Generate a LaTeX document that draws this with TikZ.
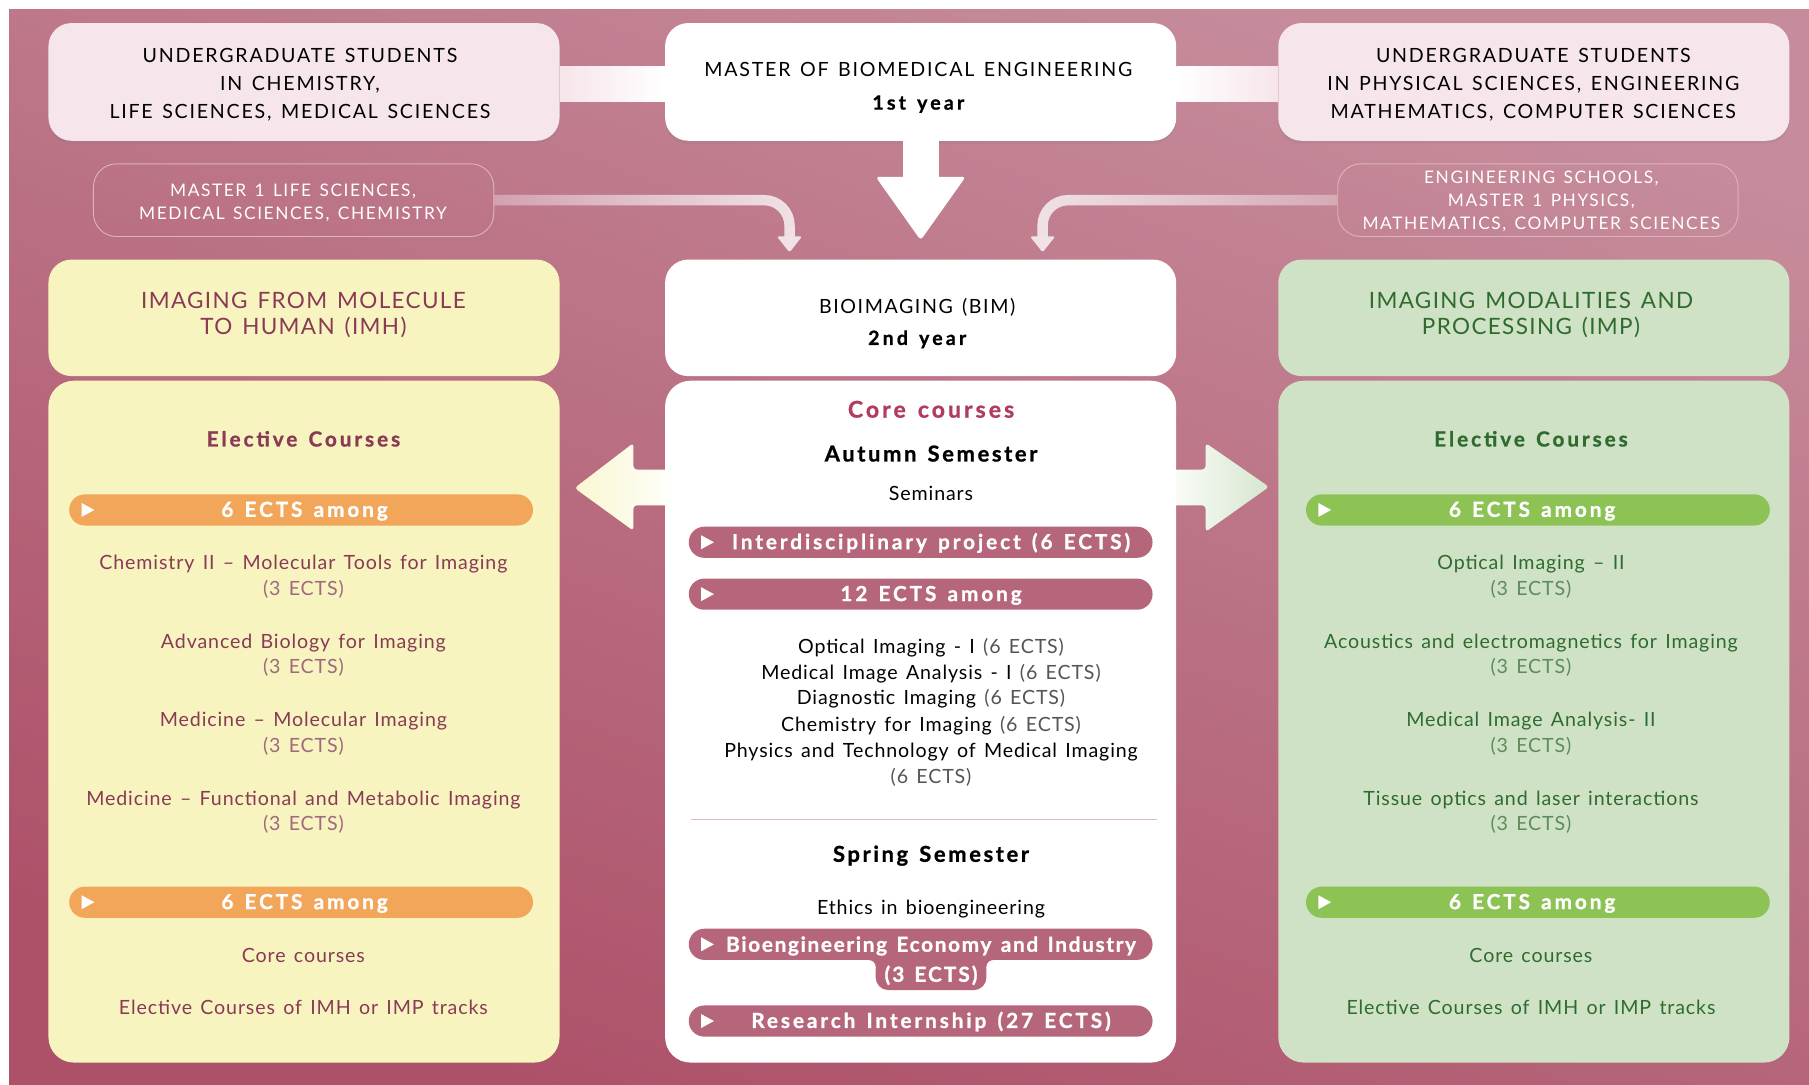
\documentclass[tikz,border=0pt]{standalone}
\usepackage{fontspec}
\setmainfont{Lato}[WordSpace=1.4]
\usetikzlibrary{calc,fadings,shadows}
\definecolor{bgA}{HTML}{C68C9B}
\definecolor{bgB}{HTML}{AD5169}
\definecolor{ugpink}{HTML}{F6E5EA}
\definecolor{yel}{HTML}{F7F4C0}
\definecolor{grn}{HTML}{CFE2C6}
\definecolor{mauve}{HTML}{8A3A55}
\definecolor{mauveL}{HTML}{A06A7C}
\definecolor{dgreen}{HTML}{2F6B2F}
\definecolor{dgreenL}{HTML}{5E8B5E}
\definecolor{crim}{HTML}{B13C5E}
\definecolor{pinkpill}{HTML}{B5667B}
\definecolor{orpill}{HTML}{F2A65A}
\definecolor{grpill}{HTML}{8DC255}
\definecolor{outl}{HTML}{DDB3BE}
\definecolor{arrw}{HTML}{F0E2E6}
\definecolor{sepc}{HTML}{E8B7C3}
\definecolor{ectsgray}{HTML}{555555}
\tikzfading[name=fadeL, left color=transparent!60, right color=transparent!0]
\tikzfading[name=fadeR, left color=transparent!0, right color=transparent!60]
\newcommand\fs[2]{\fontsize{#1}{#2}\selectfont}
\newcommand\playtri[1]{\fill[white] ($(#1.west)+(11,-6)$) -- ++(11,6) -- ++(-11,6) -- cycle;}
\begin{document}
\begin{tikzpicture}[x=1pt,y=-1pt,
  bx/.style={rounded corners=20pt, minimum width=443pt, minimum height=102pt, inner sep=0pt},
  body/.style={rounded corners=22pt, minimum width=443pt, minimum height=591pt, inner sep=0pt},
  topshadow/.style={drop shadow={opacity=0.18, shadow xshift=0pt, shadow yshift=-2.5pt}},
  ol/.style={draw=outl, line width=0.8pt, rounded corners=20pt, minimum width=347pt, minimum height=63pt, inner sep=0pt},
  tl/.style={anchor=base, inner sep=0pt},
  pill/.style={rounded corners=13.5pt, minimum width=402pt, minimum height=27pt, inner sep=0pt},
  ptx/.style={tl, text=white, font=\fs{18}{20}\bfseries\addfontfeature{LetterSpace=14,FakeBold=1}},
  toptx/.style={tl, font=\fs{17}{20}\addfontfeature{LetterSpace=9}},
  oltx/.style={tl, font=\fs{15}{18}\addfontfeature{LetterSpace=9}, text=white},
  hdtx/.style={tl, font=\fs{19.5}{22}\addfontfeature{LetterSpace=6}},
  rg/.style={tl, font=\fs{17}{20}\addfontfeature{LetterSpace=4.5}},
  lt/.style={rg, text=mauve},
  lts/.style={rg, text=mauveL},
  rt/.style={rg, text=dgreen},
  rts/.style={rg, text=dgreenL},
  ct/.style={rg, text=black},
  cb/.style={tl, font=\fs{18}{20}\bfseries\addfontfeature{LetterSpace=14,FakeBold=1}},
  yr/.style={tl, font=\fs{17}{20}\bfseries\addfontfeature{LetterSpace=16,FakeBold=1}},
]
\useasboundingbox (0,0) rectangle (1568,940);
\fill[white] (0,0) rectangle (1568,940);
\shade[top color=bgA, bottom color=bgB, shading angle=-20] (8,8) rectangle (1568,940);

% ---------- top row
\node[bx, fill=ugpink, topshadow] (ug1) at (263.5,71) {};
\node[bx, fill=white, topshadow] (m1) at (798,71) {};
\node[bx, fill=ugpink, topshadow] (ug2) at (1329.5,71) {};
\shade[left color=ugpink, right color=white] ($(ug1.east)+(0,-13)$) rectangle ($(m1.west)+(0,17)$);
\shade[left color=white, right color=ugpink] ($(m1.east)+(0,-13)$) rectangle ($(ug2.west)+(0,17)$);

\node[toptx] (ug1a) at (260,54) {UNDERGRADUATE STUDENTS};
\node[toptx] (ug1b) at (260,78.5) {IN CHEMISTRY,};
\node[toptx] (ug1c) at (260,103) {LIFE SCIENCES, MEDICAL SCIENCES};
\node[toptx] (m1a) at (796,66) {MASTER OF BIOMEDICAL ENGINEERING};
\node[yr] (m1b) at (796,95) {1st year};
\node[toptx] (ug2a) at (1329,54) {UNDERGRADUATE STUDENTS};
\node[toptx] (ug2b) at (1329,78.5) {IN PHYSICAL SCIENCES, ENGINEERING};
\node[toptx] (ug2c) at (1329,103) {MATHEMATICS, COMPUTER SCIENCES};

% ---------- outlined boxes
\node[ol] (ml) at (254.5,173.5) {};
\node[ol] (mr) at (1333,173.5) {};
\node[oltx] (mla) at (254,170) {MASTER 1 LIFE SCIENCES,};
\node[oltx] (mlb) at (254,190) {MEDICAL SCIENCES, CHEMISTRY};
\node[oltx] (mra) at (1336,159) {ENGINEERING SCHOOLS,};
\node[oltx] (mrb) at (1336,179) {MASTER 1 PHYSICS,};
\node[oltx] (mrc) at (1336,199) {MATHEMATICS, COMPUTER SCIENCES};

% ---------- second row
\node[bx, fill=yel, minimum height=101pt] (imh) at (263.5,275.5) {};
\node[bx, fill=white, minimum height=101pt] (bim) at (798,275.5) {};
\node[bx, fill=grn, minimum height=101pt] (imp) at (1329.5,275.5) {};
\node[hdtx, text=mauve] (imha) at (263,267) {IMAGING FROM MOLECULE};
\node[hdtx, text=mauve] (imhb) at (263,290) {TO HUMAN (IMH)};
\node[tl, font=\fs{17}{20}\addfontfeature{LetterSpace=8}] (bima) at (795,272) {BIOIMAGING (BIM)};
\node[yr] (bimb) at (795,299) {2nd year};
\node[hdtx, text=dgreen] (impa) at (1327,267) {IMAGING MODALITIES AND};
\node[hdtx, text=dgreen] (impb) at (1327,290) {PROCESSING (IMP)};

% ---------- connectors
\fill[white] ($(m1.south)+(-15.5,-2)$) rectangle ($(m1.south)+(15.5,32)$);
\fill[white, rounded corners=3pt] ($(m1.south)+(-39,31)$) -- ($(m1.south)+(39,31)$) -- ($(m1.south)+(0,86)$) -- cycle;

\coordinate (lae) at ($(bim.north west)+(108,-19)$);
\coordinate (rae) at ($(bim.north east)+(-116,-19)$);
\draw[arrw, line width=9pt, rounded corners=22pt, path fading=fadeL] (ml.east) -| (lae);
\fill[arrw, rounded corners=1.5pt] ($(lae)+(-11,-1)$) -- ($(lae)+(11,-1)$) -- ($(lae)+(0,13)$) -- cycle;
\draw[arrw, line width=9pt, rounded corners=22pt, path fading=fadeR] (mr.west) -| (rae);
\fill[arrw, rounded corners=1.5pt] ($(rae)+(-11,-1)$) -- ($(rae)+(11,-1)$) -- ($(rae)+(0,13)$) -- cycle;

% side arrows
\shade[left color=yel!75!white, right color=white, rounded corners=3pt] (498,423) -- (549,384) -- (549,407) -- (590,407) -- (590,438) -- (549,438) -- (549,460) -- cycle;
\shade[left color=white, right color=grn!85!white, rounded corners=3pt] (1100,422) -- (1045,384) -- (1045,407) -- (1005,407) -- (1005,438) -- (1045,438) -- (1045,461) -- cycle;

% ---------- bodies
\node[body, fill=yel] (lbody) at (263.5,625.5) {};
\node[body, fill=white] (cbody) at (798,625.5) {};
\node[body, fill=grn] (rbody) at (1329.5,625.5) {};

% left body
\node[cb, text=mauve] (le) at (263,387) {Elective Courses};
\node[pill, fill=orpill] (lp1) at (261,442) {}; \playtri{lp1}
\node[ptx] (lp1t) at (264,448) {6 ECTS among};
\node[lt] (l1) at (263,494) {Chemistry II – Molecular Tools for Imaging};
\node[lts] (l1e) at (263,516) {(3 ECTS)};
\node[lt] (l2) at (263,562) {Advanced Biology for Imaging};
\node[lts] (l2e) at (263,584) {(3 ECTS)};
\node[lt] (l3) at (263,630) {Medicine – Molecular Imaging};
\node[lts] (l3e) at (263,652) {(3 ECTS)};
\node[lt] (l4) at (263,698) {Medicine – Functional and Metabolic Imaging};
\node[lts] (l4e) at (263,720) {(3 ECTS)};
\node[pill, fill=orpill] (lp2) at (261,782) {}; \playtri{lp2}
\node[ptx] (lp2t) at (264,788) {6 ECTS among};
\node[lt] (l5) at (263,834) {Core courses};
\node[lt] (l6) at (263,879) {Elective Courses of IMH or IMP tracks};

% right body
\node[cb, text=dgreen] (re) at (1327,387) {Elective Courses};
\node[pill, fill=grpill] (rp1) at (1333,442) {}; \playtri{rp1}
\node[ptx] (rp1t) at (1328,448) {6 ECTS among};
\node[rt] (r1) at (1327,494) {Optical Imaging – II};
\node[rts] (r1e) at (1327,516) {(3 ECTS)};
\node[rt] (r2) at (1327,562) {Acoustics and electromagnetics for Imaging};
\node[rts] (r2e) at (1327,584) {(3 ECTS)};
\node[rt] (r3) at (1327,630) {Medical Image Analysis- II};
\node[rts] (r3e) at (1327,652) {(3 ECTS)};
\node[rt] (r4) at (1327,698) {Tissue optics and laser interactions};
\node[rts] (r4e) at (1327,720) {(3 ECTS)};
\node[pill, fill=grpill] (rp2) at (1333,782) {}; \playtri{rp2}
\node[ptx] (rp2t) at (1328,788) {6 ECTS among};
\node[rt] (r5) at (1327,834) {Core courses};
\node[rt] (r6) at (1327,879) {Elective Courses of IMH or IMP tracks};

% centre body
\node[tl, text=crim, font=\fs{20}{22}\bfseries\addfontfeature{LetterSpace=13,FakeBold=1}] (cc) at (807,362) {Core courses};
\node[cb, text=black, font=\fs{19}{20}\bfseries\addfontfeature{LetterSpace=12,FakeBold=1}] (aut) at (807,400) {Autumn Semester};
\node[ct] (sem) at (807,434) {Seminars};
\node[pill, fill=pinkpill] (cp1) at (798,470) {}; \playtri{cp1}
\node[ptx] (cp1t) at (807,476) {Interdisciplinary project (6 ECTS)};
\node[pill, fill=pinkpill] (cp2) at (798,515) {}; \playtri{cp2}
\node[ptx] (cp2t) at (807,521) {12 ECTS among};
\node[ct] (c1) at (807,566) {Optical Imaging - I \textcolor{ectsgray}{(6 ECTS)}};
\node[ct] (c2) at (807,589) {Medical Image Analysis - I \textcolor{ectsgray}{(6 ECTS)}};
\node[ct] (c3) at (807,611) {Diagnostic Imaging \textcolor{ectsgray}{(6 ECTS)}};
\node[ct] (c4) at (807,634) {Chemistry for Imaging \textcolor{ectsgray}{(6 ECTS)}};
\node[ct] (c5) at (807,657) {Physics and Technology of Medical Imaging};
\node[ct, text=ectsgray] (c6) at (807,679) {(6 ECTS)};
\draw[sepc, line width=1pt] ($(cbody.west)+(23,84.5)$) -- ($(cbody.east)+(-17,84.5)$);
\node[cb, text=black, font=\fs{19}{20}\bfseries\addfontfeature{LetterSpace=12,FakeBold=1}] (spr) at (807,747) {Spring Semester};
\node[ct] (eth) at (807,793) {Ethics in bioengineering};
\node[pill, fill=pinkpill] (cp3) at (798,818.5) {};
\fill[pinkpill, rounded corners=11pt] ($(cp3.south)+(-39,-7)$) rectangle ($(cp3.south)+(57,26)$);
\fill[pinkpill] ($(cp3.south)+(-45,0)$) rectangle ($(cp3.south)+(-38,6)$);
\fill[pinkpill] ($(cp3.south)+(56,0)$) rectangle ($(cp3.south)+(63,6)$);
\fill[white] ($(cp3.south)+(-45,6)$) circle[radius=6];
\fill[white] ($(cp3.south)+(63,6)$) circle[radius=6];
\playtri{cp3}
\node[ptx, font=\fs{18}{20}\bfseries\addfontfeature{LetterSpace=8,FakeBold=1}] (cp3t) at (807,825) {Bioengineering Economy and Industry};
\node[ptx, font=\fs{18}{20}\bfseries\addfontfeature{LetterSpace=10,FakeBold=1}] (cp3u) at (807,851) {(3 ECTS)};
\node[pill, fill=pinkpill] (cp4) at (798,885) {}; \playtri{cp4}
\node[ptx] (cp4t) at (807,891) {Research Internship (27 ECTS)};
\end{tikzpicture}
\end{document}
